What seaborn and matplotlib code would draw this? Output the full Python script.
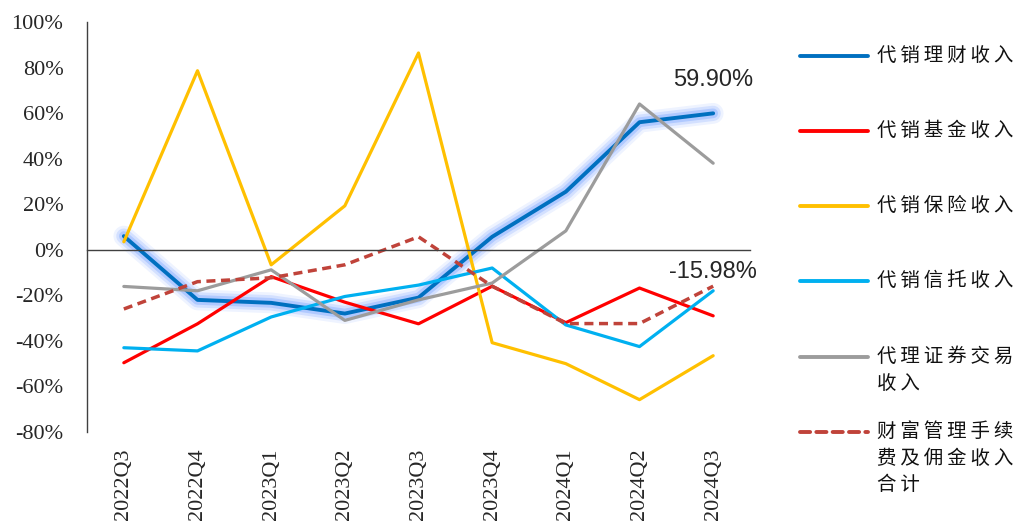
import numpy as np
import pandas as pd
import seaborn as sns
import matplotlib.pyplot as plt
import matplotlib.patheffects as pe
from matplotlib.lines import Line2D
from matplotlib.ticker import FuncFormatter, FixedLocator

quarters = ["2022Q3", "2022Q4", "2023Q1", "2023Q2", "2023Q3",
            "2023Q4", "2024Q1", "2024Q2", "2024Q3"]

# YoY growth, %
licai = [6.0, -22.0, -23.3, -28.0, -21.0, 5.7, 25.5, 56.0, 59.90]
jijin = [-49.6, -32.5, -11.8, -23.0, -32.5, -16.0, -32.0, -16.8, -29.0]
baoxian = [3.5, 78.6, -6.6, 19.3, 86.4, -40.8, -50.0, -65.8, -46.5]
xintuo = [-43.0, -44.4, -29.5, -20.5, -15.5, -8.0, -33.0, -42.5, -18.0]
zhengquan = [-16.1, -18.0, -8.8, -31.0, -22.0, -14.6, 8.3, 64.0, 38.0]
heji = [-26.0, -14.0, -12.3, -6.6, 5.7, -16.0, -32.4, -32.4, -15.98]

names = ["代销理财收入", "代销基金收入", "代销保险收入", "代销信托收入",
         "代理证券交易\n收入", "财富管理手续\n费及佣金收入\n合计"]
series = [licai, jijin, baoxian, xintuo, zhengquan, heji]
colors = ["#0070C0", "#FF0000", "#FFC000", "#00B0F0", "#9C9C9C", "#C0433A"]

sns.set_style("white")
plt.rcParams["font.family"] = ["Noto Sans CJK SC", "DejaVu Sans"]

fig = plt.figure(figsize=(10.2, 5.24), dpi=100)
ax = fig.add_axes([87 / 1020, 92 / 524, 663 / 1020, 410 / 524])

x = np.arange(len(quarters))
glow = [pe.Stroke(linewidth=15, foreground="#5a8cff", alpha=0.10),
        pe.Stroke(linewidth=11, foreground="#5a8cff", alpha=0.18),
        pe.Stroke(linewidth=7, foreground="#6f9fff", alpha=0.35),
        pe.Normal()]

for i, (vals, col) in enumerate(zip(series, colors)):
    kw = dict(color=col, linewidth=2.3)
    if i == 0:
        kw["linewidth"] = 2.8
        kw["path_effects"] = glow
    if i == 5:
        kw["linestyle"] = (0, (2.6, 1.6))
        kw["linewidth"] = 2.5
    sns.lineplot(x=x, y=vals, ax=ax, **kw)

ax.set_xlim(-0.5, len(quarters) - 0.5)
ax.set_ylim(-80, 100)
ax.set_yticks(np.arange(-80, 101, 20))
ax.yaxis.set_major_formatter(FuncFormatter(lambda v, p: f"{v:.0f}%"))

# x axis drawn through zero, labels at the bottom
ax.spines["bottom"].set_position(("data", 0))
ax.spines["top"].set_visible(False)
ax.spines["right"].set_visible(False)
for s in ["bottom", "left"]:
    ax.spines[s].set_color("#404040")
    ax.spines[s].set_linewidth(1.0)
ax.set_xticks(x)
ax.set_xticklabels(quarters, rotation=90, fontfamily="Liberation Serif", fontsize=16)
ax.xaxis.set_minor_locator(FixedLocator(np.arange(-0.5, len(quarters), 1)))
ax.tick_params(axis="x", which="major", length=0, pad=143)
ax.tick_params(axis="x", which="minor", direction="in", length=6, color="#404040")
ax.tick_params(axis="y", direction="in", length=5, color="#404040", pad=17)
for lab in ax.get_yticklabels():
    lab.set_fontfamily("Liberation Serif")
    lab.set_fontsize(16)
ax.set_xlabel("")
ax.set_ylabel("")

ax.annotate(f"{licai[-1]:.2f}%", xy=(x[-1], licai[-1]), xytext=(0, 24),
            textcoords="offset points", ha="center", va="center",
            fontsize=17, fontfamily="Liberation Sans")
ax.annotate(f"{heji[-1]:.2f}%", xy=(x[-1], heji[-1]), xytext=(0, 10),
            textcoords="offset points", ha="center", va="center",
            fontsize=17, fontfamily="Liberation Sans")

# legend on the right, handle aligned with first line of label
leg_y = [56, 131, 206, 281, 357, 432]
for name, col, yp, i in zip(names, colors, leg_y, range(6)):
    yf = 1 - yp / 524
    ls = (0, (2.6, 1.6)) if i == 5 else "-"
    fig.add_artist(Line2D([800 / 1020, 868 / 1020], [yf, yf], color=col,
                          linewidth=2.8, linestyle=ls, solid_capstyle="round",
                          dash_capstyle="round"))
    txt = "\n".join("\u2009".join(line) for line in name.split("\n"))
    fig.text(877 / 1020, 1 - (yp - 11) / 524, txt, ha="left", va="top",
             fontsize=14, linespacing=1.35, color="#111111")

fig.savefig("out.png", dpi=100)
